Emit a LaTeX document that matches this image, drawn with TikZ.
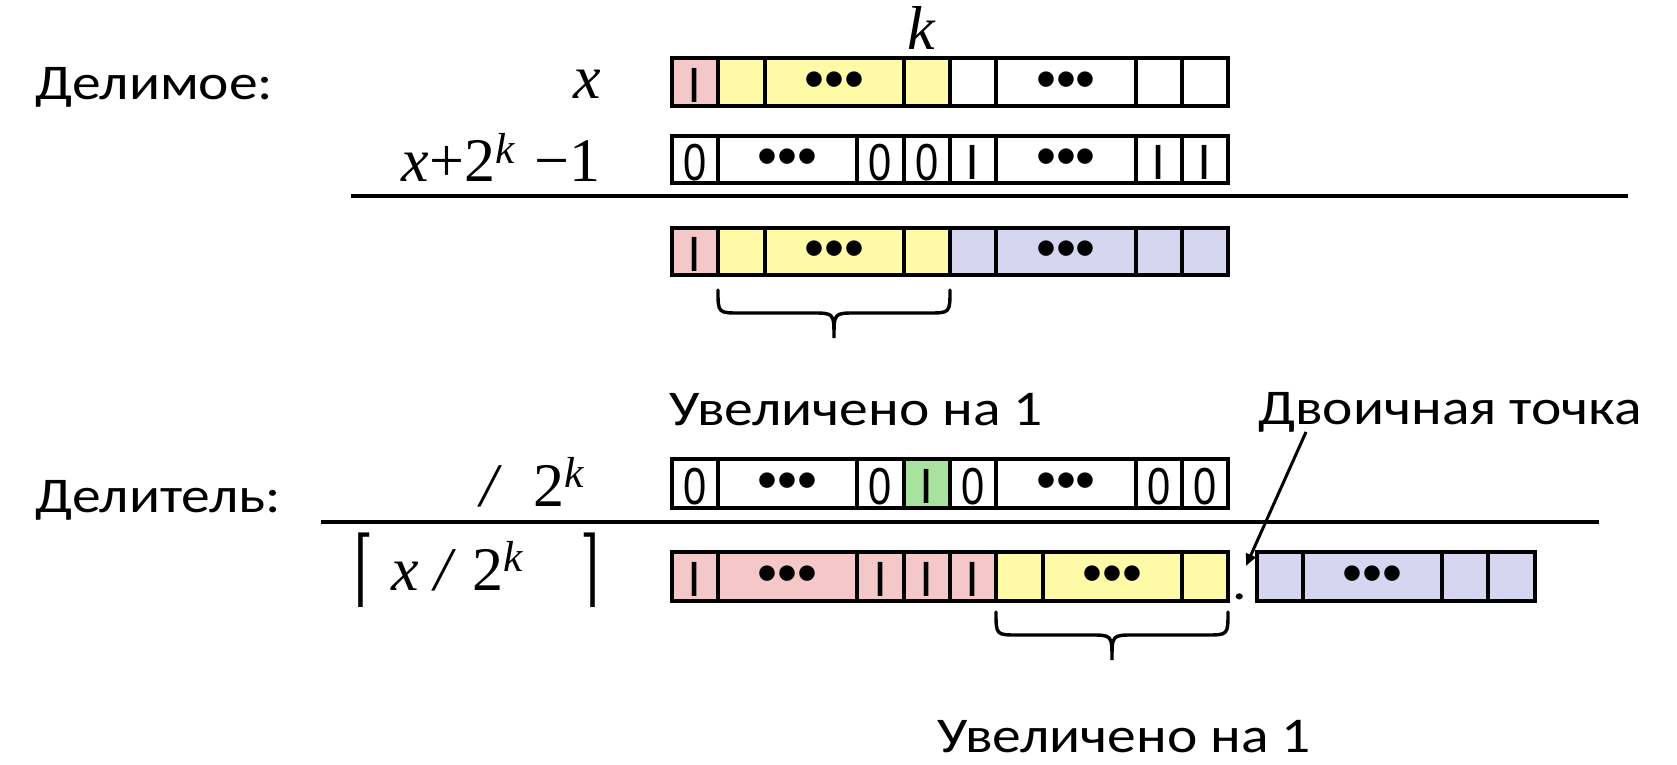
\documentclass[tikz,border=0pt]{standalone}
\usepackage{graphicx}
\usepackage{fontspec}
\setmainfont{Liberation Serif}
\newfontfamily\calibrifont[FakeStretch=1.15]{Carlito}
\newfontfamily\arialfont{Liberation Sans}
\newfontfamily\bracketfont{DejaVu Serif}
\usetikzlibrary{fit,arrows.meta}
\definecolor{pinkc}{RGB}{244,200,200}
\definecolor{yellowc}{RGB}{255,250,166}
\definecolor{bluec}{RGB}{214,214,240}
\definecolor{greenc}{RGB}{168,226,160}
\newcommand{\bitone}{{\arialfont\bfseries\fontsize{18pt}{20pt}\selectfont |}}
\newcommand{\bitzero}{{\arialfont\fontsize{26pt}{30pt}\selectfont\scalebox{0.8}[1]{0}}}
\newcommand{\bitdots}{{\arialfont\fontsize{28.5pt}{30pt}\selectfont •••}}
\newcommand{\bitnone}{}
\newcommand{\lceilglyph}{{\bracketfont\fontsize{27pt}{30pt}\selectfont\raisebox{-3pt}{\scalebox{0.9}[1.55]{⌈}}}}
\newcommand{\rceilglyph}{{\bracketfont\fontsize{27pt}{30pt}\selectfont\raisebox{-3pt}{\scalebox{0.9}[1.55]{⌉}}}}
\begin{document}
\begin{tikzpicture}[x=0.5pt,y=-0.5pt,
  cell/.style={draw=black, line width=2pt, inner sep=0pt},
  content/.style={inner sep=0pt, anchor=center},
  calib/.style={inner sep=0pt, font=\calibrifont\fontsize{25pt}{30pt}\selectfont},
  tms/.style={inner sep=0pt, font=\fontsize{31pt}{37pt}\selectfont},
  rule/.style={line width=1.6pt},
  bracestyle/.style={line width=1.7pt, line cap=round},
  arrowline/.style={line width=1.5pt, -{Triangle[length=6pt,width=5pt]}}]
\useasboundingbox (0,0) rectangle (1677,765);

% cells
\foreach \nm/\xa/\xb/\ya/\yb/\fl/\tx in {
  a1/672/718/58/106/pinkc/\bitone,
  a2/718/765/58/106/yellowc/\bitnone,
  a3/765/904/58/106/yellowc/\bitdots,
  a4/904/950/58/106/yellowc/\bitnone,
  a5/950/996/58/106/white/\bitnone,
  a6/996/1136/58/106/white/\bitdots,
  a7/1136/1182/58/106/white/\bitnone,
  a8/1182/1228/58/106/white/\bitnone,
  b1/672/718/136/183/white/\bitzero,
  b2/718/857/136/183/white/\bitdots,
  b3/857/904/136/183/white/\bitzero,
  b4/904/950/136/183/white/\bitzero,
  b5/950/996/136/183/white/\bitone,
  b6/996/1136/136/183/white/\bitdots,
  b7/1136/1182/136/183/white/\bitone,
  b8/1182/1228/136/183/white/\bitone,
  c1/672/718/228/275/pinkc/\bitone,
  c2/718/765/228/275/yellowc/\bitnone,
  c3/765/904/228/275/yellowc/\bitdots,
  c4/904/950/228/275/yellowc/\bitnone,
  c5/950/996/228/275/bluec/\bitnone,
  c6/996/1136/228/275/bluec/\bitdots,
  c7/1136/1182/228/275/bluec/\bitnone,
  c8/1182/1228/228/275/bluec/\bitnone,
  d1/672/718/459/508/white/\bitzero,
  d2/718/857/459/508/white/\bitdots,
  d3/857/904/459/508/white/\bitzero,
  d4/904/950/459/508/greenc/\bitone,
  d5/950/996/459/508/white/\bitzero,
  d6/996/1136/459/508/white/\bitdots,
  d7/1136/1182/459/508/white/\bitzero,
  d8/1182/1228/459/508/white/\bitzero,
  e1/672/718/552/601/pinkc/\bitone,
  e2/718/857/552/601/pinkc/\bitdots,
  e3/857/904/552/601/pinkc/\bitone,
  e4/904/950/552/601/pinkc/\bitone,
  e5/950/996/552/601/pinkc/\bitone,
  e6/996/1043/552/601/yellowc/\bitnone,
  e7/1043/1182/552/601/yellowc/\bitdots,
  e8/1182/1228/552/601/yellowc/\bitnone,
  f1/1257/1303/552/601/bluec/\bitnone,
  f2/1303/1442/552/601/bluec/\bitdots,
  f3/1442/1488/552/601/bluec/\bitnone,
  f4/1488/1535/552/601/bluec/\bitnone}
  {\node[cell, fill=\fl, fit={(\xa,\ya) (\xb,\yb)}] (\nm) {};
   \node[content] (\nm t) at ([yshift=-1.5pt]\nm.center) {\tx};}

% rules
\coordinate (l1a) at (351,196);
\coordinate (l1b) at (1628,196);
\coordinate (l2a) at (321,522);
\coordinate (l2b) at (1599,522);
\draw[rule] (l1a) -- (l1b);
\draw[rule] (l2a) -- (l2b);

% labels
\node[calib, anchor=base west] (dividend) at (35,100) {Делимое:};
\node[tms, anchor=base east] (xlab) at (601,99) {\textit{x}};
\node[tms, anchor=base east] (xplus) at (601,182) {\textit{x}+2\textsuperscript{\textit{k}}\hspace{0.3em}−1};
\node[tms, anchor=base] (klab) at (922,50) {\textit{k}};
\node[calib, anchor=base west] (divisor) at (35,512) {Делитель:};
\node[tms, anchor=base east] (divk) at (586,506) {\textit{/}\hspace{0.5em}2\textsuperscript{\textit{k}}};
\node[tms, anchor=base west] (ceil) at (354,590) {\lceilglyph\hspace{0.3em}\textit{x} \textit{/} 2\textsuperscript{\textit{k}}\hspace{0.9em}\rceilglyph};
\node[calib, anchor=base] (inc1) at (856,425) {Увеличено на 1};
\node[calib, anchor=base west] (bpt) at (1258,424) {Двоичная точка};
\node[calib, anchor=base] (inc2) at (1124,752) {Увеличено на 1};
\node[calib, anchor=base] (bdot) at (1240,599) {.};

% braces
\draw[bracestyle] (718,290) .. controls (718,313) .. (740,313) -- (812,313)
  .. controls (834,313) .. (834,338) .. controls (834,313) .. (856,313)
  -- (928,313) .. controls (950,313) .. (950,290);
\draw[bracestyle] (996,612) .. controls (996,635) .. (1018,635) -- (1090,635)
  .. controls (1112,635) .. (1112,660) .. controls (1112,635) .. (1134,635)
  -- (1206,635) .. controls (1228,635) .. (1228,612);

% arrow to binary point
\coordinate (arrS) at (1306,432);
\coordinate (arrE) at (1246,566);
\draw[arrowline] (arrS) -- (arrE);
\end{tikzpicture}
\end{document}
